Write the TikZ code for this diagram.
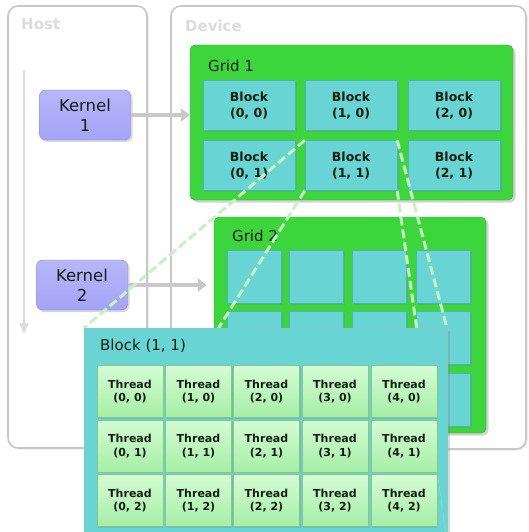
\documentclass[tikz,border=0pt]{standalone}
\usepackage{fontspec}
\setmainfont{DejaVu Sans}
\usetikzlibrary{arrows.meta,shadows,calc}
\definecolor{txt}{HTML}{102010}
\definecolor{framegray}{HTML}{C8C8C8}
\definecolor{labelgray}{HTML}{DCDCDC}
\definecolor{kernf}{HTML}{A4A4F8}
\definecolor{kernb}{HTML}{8888E0}
\definecolor{gridf}{HTML}{3CD63C}
\definecolor{gridb}{HTML}{2CAE2C}
\definecolor{blkf}{HTML}{68D4D4}
\definecolor{blkb}{HTML}{4CB4B4}
\definecolor{thrt}{HTML}{D4FCD4}
\definecolor{thrbot}{HTML}{A6EEA6}
\definecolor{thrb}{HTML}{84C884}
\definecolor{arrowgray}{HTML}{C8C8C8}
\definecolor{dashg}{HTML}{C6F2C0}
\tikzset{
  frame/.style={draw=framegray, line width=1.6pt, rounded corners=10pt, fill=white,
    drop shadow={shadow xshift=1.5pt, shadow yshift=-1.5pt, opacity=0.2}},
  framelabel/.style={font=\fontsize{15}{15}\selectfont\bfseries, text=labelgray, anchor=west, inner sep=0},
  kernelbox/.style={draw=kernb, top color=kernf!80!white, bottom color=kernf, rounded corners=6pt, minimum width=91pt,
    minimum height=50pt, inner sep=0, align=center, text=txt,
    font=\fontsize{16.5}{20}\selectfont,
    drop shadow={shadow xshift=2pt, shadow yshift=-2pt, opacity=0.3}},
  gridbox/.style={draw=gridb, fill=gridf, rounded corners=5pt, inner sep=0,
    drop shadow={shadow xshift=2.5pt, shadow yshift=-2.5pt, opacity=0.35}},
  gridlabel/.style={font=\fontsize{15}{15}\selectfont, text=txt, anchor=west, inner sep=0},
  blk/.style={draw=blkb, fill=blkf, minimum width=92pt, minimum height=50pt, inner sep=0,
    align=center, text=txt, font=\fontsize{12.5}{16}\selectfont\bfseries,
    drop shadow={shadow xshift=1.5pt, shadow yshift=-1.5pt, opacity=0.3}},
  cell/.style={draw=blkb, fill=blkf, minimum width=54pt, minimum height=53pt, inner sep=0,
    drop shadow={shadow xshift=1.5pt, shadow yshift=-1.5pt, opacity=0.3}},
  bigblk/.style={draw=blkb!70, fill=blkf, inner sep=0,
    drop shadow={shadow xshift=2.5pt, shadow yshift=-2.5pt, opacity=0.3}},
  thr/.style={draw=thrb, top color=thrt, bottom color=thrbot, minimum width=66pt,
    minimum height=52pt, inner sep=0, align=center, text=txt,
    font=\fontsize{11}{13.5}\selectfont\bfseries,
    drop shadow={shadow xshift=1.2pt, shadow yshift=-1.2pt, opacity=0.3}},
  launch/.style={draw=arrowgray, line width=4pt, -{Triangle[width=13pt,length=9pt]}},
  timeline/.style={draw=labelgray, line width=2pt, -{Triangle[width=9pt,length=11pt]}},
  zoomline/.style={draw=dashg, line width=3pt, dash pattern=on 9pt off 4pt},
}
\begin{document}
\begin{tikzpicture}[x=1pt,y=-1pt]
\useasboundingbox (0,0) rectangle (528,532);
\clip (0,0) rectangle (528,532);
% frames
\node[frame, minimum width=139pt, minimum height=442pt, inner sep=0] (host) at (77.5,227) {};
\node[frame, minimum width=355pt, minimum height=443pt, inner sep=0] (device) at (348.5,227.5) {};
\node[framelabel] (hostlbl) at (21,24) {Host};
\node[framelabel] (devlbl) at (185,26) {Device};
% host timeline
\coordinate (t0) at (24,70);
\coordinate (t1) at (24,334);
\draw[timeline] (t0) -- (t1);
% kernels
\node[kernelbox] (k1) at (85,115) {Kernel\\1};
\node[kernelbox] (k2) at (82,285) {Kernel\\2};
% grid 1
\node[gridbox, minimum width=323pt, minimum height=155pt] (g1) at (351.5,122.5) {};
\node[gridlabel] (g1lbl) at (208,66) {Grid 1};
\node[blk] (b00) at (249,105.5) {Block\\(0, 0)};
\node[blk] (b10) at (351,105.5) {Block\\(1, 0)};
\node[blk] (b20) at (454,105.5) {Block\\(2, 0)};
\node[blk] (b01) at (249,165.5) {Block\\(0, 1)};
\node[blk] (b11) at (351,165.5) {Block\\(1, 1)};
\node[blk] (b21) at (454,165.5) {Block\\(2, 1)};
% grid 2
\node[gridbox, minimum width=272pt, minimum height=216pt] (g2) at (350,325) {};
\node[gridlabel] (g2lbl) at (232,236) {Grid 2};
\foreach \c/\x in {0/254,1/316.5,2/379.5,3/443.5}{
  \foreach \r/\y in {0/276.5,1/338,2/399.5}{
    \node[cell] (c\c\r) at (\x,\y) {};
  }
}
% launch arrows
\draw[launch] (k1.east) -- (k1.east -| g1.west);
\draw[launch] (k2.east) -- ([xshift=-7pt]k2.east -| g2.west);
% big block corners (for the zoom lines)
\coordinate (bignw) at (84,328);
\coordinate (bigne) at (447,328);
\coordinate (bigsw) at (84,542);
\coordinate (bigse) at (447,542);
% zoom lines
\draw[zoomline] (b11.north west) -- (bignw);
\draw[zoomline] (b11.south west) -- (bigsw);
\draw[zoomline] (b11.north east) -- (bigne);
\draw[zoomline] (b11.south east) -- (bigse);
% big block
\node[bigblk, minimum width=363pt, minimum height=214pt] (big) at (265.5,435) {};
\draw[zoomline, opacity=0.25, line width=1pt] ($(b11.south east)!0.55!(bigse)$) -- (bigse);
\node[gridlabel] (biglbl) at (100,346) {Block (1, 1)};
\foreach \c/\x in {0/130,1/198.5,2/266.5,3/335,4/404}{
  \foreach \r/\y in {0/391.5,1/446,2/500.5}{
    \node[thr] (t\c\r) at (\x,\y) {Thread\\(\c, \r)};
  }
}
\end{tikzpicture}
\end{document}
